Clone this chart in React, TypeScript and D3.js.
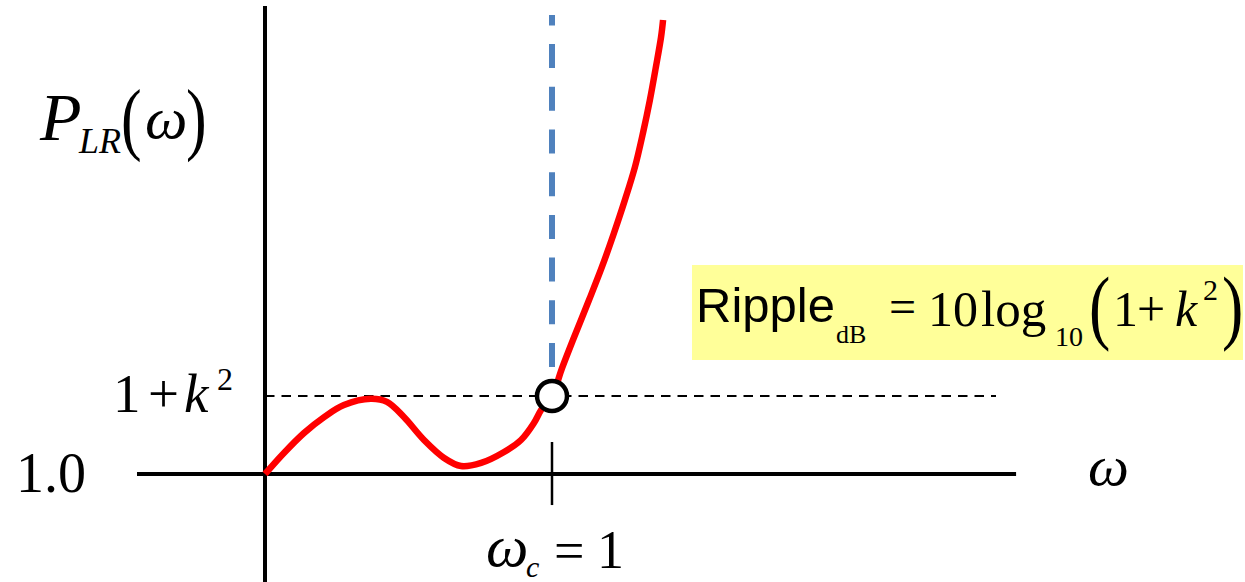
import React from 'react';
import * as d3 from 'd3';

// Insertion-loss response P_LR(ω) of an equal-ripple low-pass prototype.
const omega = [0, 0.066, 0.136, 0.206, 0.275, 0.369, 0.425, 0.484, 0.554, 0.624, 0.683, 0.753, 0.833, 0.892, 0.937, 0.962, 1.0, 1.035, 1.073, 1.129, 1.174, 1.216, 1.254, 1.289, 1.317, 1.341, 1.362, 1.38, 1.387];
const pLR = [1.0, 1.135, 1.263, 1.365, 1.442, 1.482, 1.462, 1.365, 1.218, 1.103, 1.051, 1.071, 1.141, 1.218, 1.327, 1.41, 1.5, 1.679, 1.859, 2.115, 2.327, 2.545, 2.756, 2.968, 3.186, 3.397, 3.609, 3.801, 3.91];

const k2 = 0.5; // ripple level above unity: 1 + k^2
const omegaC = 1; // cutoff frequency
const xAxisExtent = [-0.446, 2.617];
const yAxisExtent = [0.3, 4.0];
const rippleLineEnd = 2.547;
const cutoffGuide = [1.686, 3.942];
const cutoffTick = [0.801, 1.205];

const W = 1245;
const H = 582;

const serif = '"Liberation Serif", "Times New Roman", serif';
const sans = '"Liberation Sans", Arial, sans-serif';

// Tall, equation-style parenthesis
function Paren({ x, y, size, ch }: { x: number; y: number; size: number; ch: string }) {
  return (
    <text transform={`translate(${x},${y}) scale(1,1.3)`} fontSize={size} fontFamily={serif} fill="#000">
      {ch}
    </text>
  );
}

export default function App() {
  const x = d3.scaleLinear().domain([0, 1]).range([265, 552]);
  const y = d3.scaleLinear().domain([1, 1.5]).range([474, 396]);

  const pts: [number, number][] = omega.map((w, i) => [w, pLR[i]]);
  const line = d3
    .line<[number, number]>()
    .x((d) => x(d[0]))
    .y((d) => y(d[1]))
    .curve(d3.curveCatmullRom.alpha(0.5));

  return (
    <svg
      width={W}
      height={H}
      viewBox={`0 0 ${W} ${H}`}
      style={{ position: 'fixed', left: 0, top: 0, background: '#fff' }}
    >
      {/* ripple level 1 + k^2 */}
      <line
        x1={x(0)}
        x2={x(rippleLineEnd)}
        y1={y(1 + k2)}
        y2={y(1 + k2)}
        stroke="#000"
        strokeWidth={2}
        strokeDasharray="9.5 7"
      />
      {/* cutoff guide */}
      <line
        x1={x(omegaC)}
        x2={x(omegaC)}
        y1={y(cutoffGuide[0])}
        y2={y(cutoffGuide[1])}
        stroke="#4f81bd"
        strokeWidth={6}
        strokeDasharray="24 18.7"
      />
      {/* axes */}
      <line x1={x(xAxisExtent[0])} x2={x(xAxisExtent[1])} y1={y(1)} y2={y(1)} stroke="#000" strokeWidth={4} />
      <line x1={x(0)} x2={x(0)} y1={y(yAxisExtent[0])} y2={y(yAxisExtent[1])} stroke="#000" strokeWidth={4} />
      {/* cutoff tick */}
      <line
        x1={x(omegaC)}
        x2={x(omegaC)}
        y1={y(cutoffTick[0])}
        y2={y(cutoffTick[1])}
        stroke="#000"
        strokeWidth={2.5}
      />
      {/* response curve */}
      <path d={line(pts) ?? ''} fill="none" stroke="#ff0000" strokeWidth={6.5} strokeLinejoin="round" strokeLinecap="butt" />
      {/* cutoff point */}
      <circle cx={x(omegaC)} cy={y(1 + k2)} r={15} fill="#fff" stroke="#000" strokeWidth={4.5} />

      {/* y-axis title P_LR(ω) */}
      <g fontFamily={serif} fill="#000">
        <text x={40} y={140} fontSize={68} fontStyle="italic">P</text>
        <text x={79} y={153} fontSize={36} fontStyle="italic">LR</text>
        <text x={145} y={138} fontSize={60} fontStyle="italic">ω</text>
      </g>
      <Paren x={121} y={145} size={62} ch="(" />
      <Paren x={186} y={145} size={62} ch=")" />

      {/* level labels */}
      <g fontFamily={serif} fill="#000">
        <text x={16} y={492} fontSize={56}>1.0</text>
        <text x={113} y={412} fontSize={55}>1</text>
        <text x={148} y={412} fontSize={55}>+</text>
        <text x={184} y={412} fontSize={55} fontStyle="italic">k</text>
        <text x={217} y={390} fontSize={32}>2</text>
      </g>

      {/* x-axis labels */}
      <g fontFamily={serif} fill="#000">
        <text x={1088} y={485} fontSize={58} fontStyle="italic">ω</text>
        <text x={486} y={566} fontSize={60} fontStyle="italic">ω</text>
        <text x={526} y={577} fontSize={30} fontStyle="italic">c</text>
        <text x={554} y={569} fontSize={54}>=</text>
        <text x={597} y={568} fontSize={54}>1</text>
      </g>

      {/* ripple formula */}
      <rect x={692} y={265} width={551} height={95} fill="#ffff99" />
      <text x={696} y={322} fontSize={49} fontFamily={sans} fill="#000">Ripple</text>
      <g fontFamily={serif} fill="#000">
        <text x={836} y={343} fontSize={26}>dB</text>
        <text x={889} y={323} fontSize={48}>=</text>
        <text x={928} y={326} fontSize={50}>10</text>
        <text x={981} y={326} fontSize={51}>log</text>
        <text x={1055} y={346} fontSize={28}>10</text>
        <text x={1113} y={326} fontSize={50}>1</text>
        <text x={1137} y={326} fontSize={50}>+</text>
        <text x={1175} y={326} fontSize={50} fontStyle="italic">k</text>
        <text x={1203} y={300} fontSize={30}>2</text>
      </g>
      <Paren x={1089} y={334} size={64} ch="(" />
      <Paren x={1222} y={334} size={64} ch=")" />
    </svg>
  );
}
